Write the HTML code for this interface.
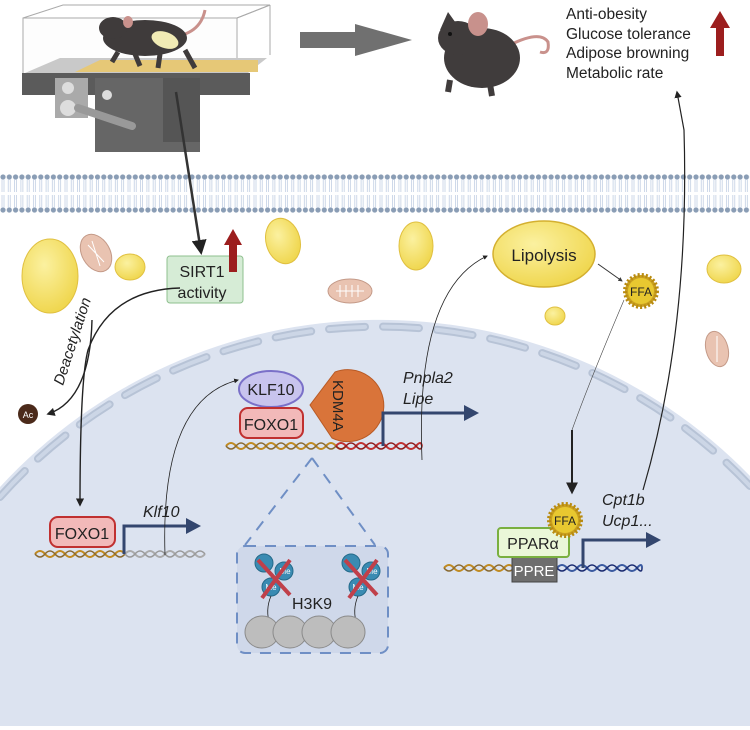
<!DOCTYPE html>
<html><head><meta charset="utf-8"><style>
html,body{margin:0;padding:0;background:#fff;width:750px;height:730px;overflow:hidden}
svg{display:block;font-family:"Liberation Sans",sans-serif;overflow:hidden}
</style></head><body>
<svg width="750" height="730" viewBox="0 0 750 730" xmlns="http://www.w3.org/2000/svg">
<defs>
<marker id="ah" viewBox="0 0 10 10" refX="8" refY="5" markerWidth="6" markerHeight="6" orient="auto"><path d="M0,0 L10,5 L0,10 z" fill="#222"/></marker>
<marker id="ahb" viewBox="0 0 10 10" refX="8" refY="5" markerWidth="4.5" markerHeight="4.5" orient="auto"><path d="M0,0 L10,5 L0,10 z" fill="#3a3a3a"/></marker>
<pattern id="dots" x="0" y="174" width="6.3" height="40" patternUnits="userSpaceOnUse">
<circle cx="3" cy="3" r="2.6" fill="#8a9db5"/><circle cx="3" cy="36" r="2.6" fill="#8a9db5"/>
<path d="M2,5 L2,18 M4,5 L4,18 M2,21 L2,34 M4,21 L4,34" stroke="#b9c8df" stroke-width="0.7"/>
</pattern>
<radialGradient id="fat" cx="40%" cy="35%" r="70%"><stop offset="0" stop-color="#fbf1a0"/><stop offset="1" stop-color="#efd54a"/></radialGradient>
</defs>
<!-- nucleus -->
<path d="M0,726 L0,487 A516,516 0 0 1 750,476 L750,726 Z" fill="#dce3f0"/>
<path d="M0,497 A509,509 0 0 1 750,486" fill="none" stroke="#b7c3d6" stroke-width="8" stroke-dasharray="36 18" stroke-linecap="round"/>
<path d="M0,497 A509,509 0 0 1 750,486" fill="none" stroke="#ccd6e6" stroke-width="4" stroke-dasharray="36 18" stroke-linecap="round"/>

<!-- membrane -->
<rect x="0" y="174" width="750" height="40" fill="url(#dots)"/>

<!-- treadmill -->
<path d="M63,5 L270,5 L237,18 L23,18 Z" fill="none" stroke="#aaa" stroke-width="1"/>
<rect x="23" y="18" width="214" height="60" fill="#fdfdfd" stroke="#aaa" stroke-width="1"/>
<line x1="237" y1="18" x2="270" y2="5" stroke="#aaa"/><line x1="270" y1="5" x2="270" y2="55" stroke="#aaa"/>
<path d="M60,58 L267,58 L248,73 L25,73 Z" fill="#c9c9c9"/>
<path d="M100,60 L258,60 L258,72 L75,72 Z" fill="#e6c877"/>
<rect x="22" y="73" width="228" height="22" fill="#5b5b5b"/>
<rect x="95" y="78" width="105" height="74" fill="#666"/>
<rect x="163" y="78" width="37" height="64" fill="#555"/>
<rect x="55" y="78" width="33" height="40" fill="#aaa"/>
<circle cx="68" cy="88" r="6" fill="#ddd"/><circle cx="68" cy="108" r="8" fill="#ddd"/>
<path d="M78,108 L132,126" stroke="#999" stroke-width="8" stroke-linecap="round"/>
<circle cx="107" cy="95" r="5" fill="#ddd"/>
<!-- running mouse -->
<path d="M205,10 Q200,35 170,37" stroke="#c9918c" stroke-width="3" fill="none"/>
<ellipse cx="145" cy="38" rx="42" ry="18" fill="#3f3b3b"/>
<ellipse cx="113" cy="28" rx="14" ry="11" fill="#3f3b3b"/>
<ellipse cx="128" cy="22" rx="5" ry="6" fill="#c9918c"/>
<ellipse cx="165" cy="40" rx="14" ry="8" fill="#f1ebb5" transform="rotate(20 165 40)"/>
<path d="M118,52 L112,62 M135,54 L140,66 M160,54 L158,68 M185,50 L195,68" stroke="#3f3b3b" stroke-width="5"/>

<!-- gray big arrow -->
<path d="M300,32 L355,32 L355,24 L412,40 L355,56 L355,48 L300,48 Z" fill="#707070"/>
<!-- sitting mouse -->
<path d="M510,45 Q540,30 548,42 Q550,55 540,52" stroke="#c9918c" stroke-width="3" fill="none"/>
<ellipse cx="482" cy="58" rx="38" ry="30" fill="#403c3c"/>
<ellipse cx="458" cy="38" rx="20" ry="17" fill="#403c3c"/>
<path d="M440,30 L448,12 L458,26 Z" fill="#403c3c"/>
<ellipse cx="478" cy="24" rx="10" ry="12" fill="#c8918c"/>
<circle cx="450" cy="34" r="2" fill="#111"/>
<path d="M450,80 L448,92 M490,84 L492,96" stroke="#403c3c" stroke-width="6"/>

<!-- outcome text -->
<g font-size="15.5" fill="#222">
<text x="566" y="19">Anti-obesity</text>
<text x="566" y="39">Glucose tolerance</text>
<text x="566" y="58">Adipose browning</text>
<text x="566" y="78">Metabolic rate</text>
</g>
<path d="M716,56 L716,28 L710,28 L720,11 L730,28 L724,28 L724,56 Z" fill="#9c1e1e"/>

<!-- droplets -->
<g stroke="#e0c040" stroke-width="1">
<ellipse cx="50" cy="276" rx="28" ry="37" fill="url(#fat)"/>
<ellipse cx="130" cy="267" rx="15" ry="13" fill="url(#fat)"/>
<ellipse cx="283" cy="241" rx="17" ry="23" fill="url(#fat)" transform="rotate(-15 283 241)"/>
<ellipse cx="416" cy="246" rx="17" ry="24" fill="url(#fat)"/>
<ellipse cx="724" cy="269" rx="17" ry="14" fill="url(#fat)"/>
<ellipse cx="555" cy="316" rx="10" ry="9" fill="url(#fat)"/>
<ellipse cx="544" cy="254" rx="51" ry="33" fill="url(#fat)" stroke="#d4b030" stroke-width="1.5"/>
</g>
<!-- mitochondria -->
<g fill="#e9c3b1" stroke="#c49a88">
<ellipse cx="96" cy="253" rx="14" ry="20" transform="rotate(-30 96 253)"/>
<ellipse cx="350" cy="291" rx="22" ry="12"/>
<ellipse cx="717" cy="349" rx="11" ry="18" transform="rotate(-15 717 349)"/>
</g>
<g stroke="#fff" stroke-width="1" fill="none">
<path d="M88,245 L104,262 M92,241 L100,266 M336,291 L364,291"/>
<path d="M340,285 L340,297 M346,285 L346,297 M352,285 L352,297 M358,285 L358,297 M717,336 L717,362"/>
</g>
<text x="544" y="261" font-size="17" text-anchor="middle" fill="#222">Lipolysis</text>
<!-- FFA star -->
<circle cx="641" cy="291" r="16" fill="#c9a020" stroke="#b88a10" stroke-width="4" stroke-dasharray="2 2"/>
<circle cx="641" cy="291" r="13" fill="#e8c830"/>
<text x="641" y="296" font-size="12" text-anchor="middle" fill="#222">FFA</text>
<line x1="598" y1="264" x2="622" y2="281" stroke="#333" stroke-width="1" marker-end="url(#ahb)"/>

<!-- SIRT1 -->
<line x1="176" y1="92" x2="201" y2="252" stroke="#333" stroke-width="2.5" marker-end="url(#ah)"/>
<rect x="167" y="256" width="76" height="47" rx="3" fill="#d6ecd6" stroke="#8fc08f"/>
<text x="202" y="277" font-size="16" text-anchor="middle" fill="#222">SIRT1</text>
<text x="202" y="298" font-size="16" text-anchor="middle" fill="#222">activity</text>
<path d="M229,272 L229,245 L224,245 L233,229 L242,245 L237,245 L237,272 Z" fill="#9c1e1e"/>

<!-- deacetylation -->
<path d="M180,288 Q110,290 88,350 Q80,380 80,505" stroke="#222" stroke-width="1.4" fill="none" marker-end="url(#ah)"/>
<path d="M92,320 Q90,400 48,414" stroke="#222" stroke-width="1.4" fill="none" marker-end="url(#ah)"/>
<text x="0" y="0" font-size="15" font-style="italic" fill="#222" transform="translate(63,386) rotate(-72)">Deacetylation</text>
<circle cx="28" cy="414" r="10" fill="#4b2a1a"/>
<text x="28" y="418" font-size="9" fill="#fff" text-anchor="middle">Ac</text>

<!-- left FOXO1 -->
<path d="M35,554 q5,-6 10,0 t10,0 t10,0 t10,0 t10,0 t10,0 t10,0 t10,0 t10,0" stroke="#c08a20" stroke-width="2" fill="none"/>
<path d="M35,554 q5,6 10,0 t10,0 t10,0 t10,0 t10,0 t10,0 t10,0 t10,0 t10,0" stroke="#8a6a30" stroke-width="1.5" fill="none"/>
<path d="M125,554 q5,-6 10,0 t10,0 t10,0 t10,0 t10,0 t10,0 t10,0 t10,0" stroke="#aaa" stroke-width="2" fill="none"/>
<path d="M125,554 q5,6 10,0 t10,0 t10,0 t10,0 t10,0 t10,0 t10,0 t10,0" stroke="#999" stroke-width="1.5" fill="none"/>
<rect x="50" y="517" width="65" height="30" rx="8" fill="#f2b9b9" stroke="#c03030" stroke-width="2"/>
<text x="82" y="539" font-size="16" text-anchor="middle" fill="#222">FOXO1</text>
<path d="M124,554 L124,526 L188,526" stroke="#33466e" stroke-width="3" fill="none"/>
<path d="M186,518 L201,526 L186,534 Z" fill="#33466e"/>
<text x="143" y="517" font-size="16" font-style="italic" fill="#222">Klf10</text>
<path d="M165,555 Q160,400 238,380" stroke="#222" stroke-width="0.8" fill="none" marker-end="url(#ah)"/>

<!-- middle complex -->
<path d="M226,446 q5,-6 10,0 t10,0 t10,0 t10,0 t10,0 t10,0 t10,0 t10,0 t10,0 t10,0 t10,0 t10,0" stroke="#c08a20" stroke-width="2" fill="none"/>
<path d="M226,446 q5,6 10,0 t10,0 t10,0 t10,0 t10,0 t10,0 t10,0 t10,0 t10,0 t10,0 t10,0 t10,0" stroke="#8a6a30" stroke-width="1.5" fill="none"/>
<path d="M336,446 q5,-6 10,0 t10,0 t10,0 t10,0 t10,0 t10,0 t10,0 t10,0 t6,0" stroke="#c03030" stroke-width="2" fill="none"/>
<path d="M336,446 q5,6 10,0 t10,0 t10,0 t10,0 t10,0 t10,0 t10,0 t10,0 t6,0" stroke="#901a1a" stroke-width="1.5" fill="none"/>
<path d="M335,372 A36,36 0 1 1 332,438 L310,405 Z" fill="#d9743a" stroke="#b85a25"/>
<text x="0" y="0" font-size="15" fill="#222" transform="translate(333,380) rotate(90)">KDM4A</text>
<ellipse cx="271" cy="389" rx="32" ry="18" fill="#c8c4ee" stroke="#7a70c8" stroke-width="2"/>
<text x="271" y="395" font-size="16" text-anchor="middle" fill="#222">KLF10</text>
<rect x="240" y="408" width="63" height="30" rx="8" fill="#f2b9b9" stroke="#c03030" stroke-width="2"/>
<text x="271" y="430" font-size="16" text-anchor="middle" fill="#222">FOXO1</text>
<path d="M383,446 L383,413 L466,413" stroke="#33466e" stroke-width="3" fill="none"/>
<path d="M464,405 L479,413 L464,421 Z" fill="#33466e"/>
<text x="403" y="383" font-size="16" font-style="italic" fill="#222">Pnpla2</text>
<text x="403" y="404" font-size="16" font-style="italic" fill="#222">Lipe</text>
<path d="M422,460 Q415,290 487,256" stroke="#222" stroke-width="0.8" fill="none" marker-end="url(#ah)"/>

<!-- zoom triangle + H3K9 box -->
<path d="M312,458 L245,545 M312,458 L375,545" stroke="#6f8fc5" stroke-width="2" stroke-dasharray="11 9" fill="none"/>
<rect x="237" y="546" width="151" height="107" rx="8" fill="#cfd8ea" stroke="#6f8fc5" stroke-width="2" stroke-dasharray="11 9"/>
<text x="312" y="609" font-size="16" text-anchor="middle" fill="#222">H3K9</text>
<g fill="#3a8bb2" stroke="#256a8a">
<circle cx="264" cy="563" r="9"/><circle cx="284" cy="571" r="9"/><circle cx="271" cy="587" r="9"/>
<circle cx="351" cy="563" r="9"/><circle cx="371" cy="571" r="9"/><circle cx="358" cy="587" r="9"/>
</g>
<g font-size="8" fill="#fff" text-anchor="middle"><text x="285" y="574">Me</text><text x="271" y="590">Me</text><text x="372" y="574">Me</text><text x="358" y="590">Me</text></g>
<path d="M258,560 L290,595 M290,560 L262,598 M345,560 L377,595 M377,560 L349,598" stroke="#c0404a" stroke-width="4"/>
<path d="M271,596 Q265,610 270,625 M358,596 Q352,610 357,625" stroke="#222" stroke-width="0.8" fill="none"/>
<g fill="#bdbdbd" stroke="#8a8a8a">
<ellipse cx="262" cy="632" rx="17" ry="16"/><ellipse cx="290" cy="632" rx="17" ry="16"/><ellipse cx="319" cy="632" rx="17" ry="16"/><ellipse cx="348" cy="632" rx="17" ry="16"/>
</g>

<!-- PPAR region -->
<path d="M624,300 Q590,380 572,430" stroke="#444" stroke-width="0.6" fill="none"/>
<path d="M572,430 L572,492" stroke="#222" stroke-width="2" fill="none" marker-end="url(#ah)"/>
<path d="M643,490 Q690,330 684,130 L677,92" stroke="#222" stroke-width="1.2" fill="none" marker-end="url(#ah)"/>
<path d="M444,568 q5,-6 10,0 t10,0 t10,0 t10,0 t10,0 t10,0 t10,0" stroke="#c08a20" stroke-width="2" fill="none"/>
<path d="M444,568 q5,6 10,0 t10,0 t10,0 t10,0 t10,0 t10,0 t10,0" stroke="#8a6a30" stroke-width="1.5" fill="none"/>
<path d="M557,568 q5,-6 10,0 t10,0 t10,0 t10,0 t10,0 t10,0 t10,0 t10,0 t5,0" stroke="#3a5aa0" stroke-width="2" fill="none"/>
<path d="M557,568 q5,6 10,0 t10,0 t10,0 t10,0 t10,0 t10,0 t10,0 t10,0 t5,0" stroke="#1a2a70" stroke-width="1.5" fill="none"/>
<rect x="512" y="557" width="45" height="25" fill="#6e6e6e" stroke="#444"/>
<text x="534" y="576" font-size="15" fill="#fff" text-anchor="middle">PPRE</text>
<rect x="498" y="528" width="71" height="29" rx="3" fill="#eaf7d8" stroke="#7ab040" stroke-width="2"/>
<text x="533" y="549" font-size="16" text-anchor="middle" fill="#222">PPARα</text>
<circle cx="565" cy="520" r="16" fill="#c9a020" stroke="#b88a10" stroke-width="4" stroke-dasharray="2 2"/>
<circle cx="565" cy="520" r="13" fill="#e8c830"/>
<text x="565" y="525" font-size="12" text-anchor="middle" fill="#222">FFA</text>
<path d="M583,568 L583,540 L648,540" stroke="#33466e" stroke-width="3" fill="none"/>
<path d="M646,532 L661,540 L646,548 Z" fill="#33466e"/>
<text x="602" y="505" font-size="16" font-style="italic" fill="#222">Cpt1b</text>
<text x="602" y="526" font-size="16" font-style="italic" fill="#222">Ucp1...</text>
</svg>
</body></html>
